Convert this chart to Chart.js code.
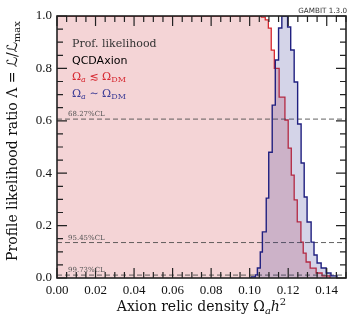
<!DOCTYPE html>
<html>
<head>
<meta charset="utf-8">
<script src="https://cdn.jsdelivr.net/npm/chart.js@4"></script>
<style>
  html, body { margin: 0; padding: 0; background: #fff; }
  canvas { display: block; }
</style>
</head>
<body>
<canvas id="myChart" width="358" height="331"></canvas>
<script>
const ctx = document.getElementById('myChart')

// histogram bin left edges and heights (last point closes the bin)
const redX = [0.0, 0.1061, 0.1081, 0.1097, 0.1112, 0.1128, 0.1153, 0.1183, 0.1200, 0.1216, 0.1231, 0.1247, 0.1266, 0.1278, 0.1293, 0.1314, 0.1345, 0.1376, 0.1417]
const redY = [1.0, 0.996, 0.985, 0.954, 0.87, 0.80, 0.69, 0.603, 0.496, 0.393, 0.298, 0.214, 0.137, 0.095, 0.061, 0.038, 0.019, 0.008, 0]

const blueX = [0.1000, 0.1009, 0.1029, 0.1040, 0.1055, 0.1066, 0.1086, 0.1099, 0.1117, 0.1133, 0.1150, 0.1167, 0.1197, 0.1213, 0.1231, 0.1249, 0.1267, 0.1283, 0.1298, 0.1319, 0.1334, 0.1350, 0.1371, 0.1397, 0.1422, 0.1453]
const blueY = [0, 0.004, 0.012, 0.038, 0.099, 0.176, 0.305, 0.48, 0.66, 0.832, 0.954, 1.0, 0.958, 0.87, 0.748, 0.588, 0.439, 0.309, 0.214, 0.137, 0.088, 0.057, 0.038, 0.019, 0.008, 0]

const clLevels = [0.6065, 0.1353, 0.0111]
const clLabels = ['68.27%CL', '95.45%CL', '99.73%CL']

const xTicks = [0, 0.02, 0.04, 0.06, 0.08, 0.10, 0.12, 0.14]
const yTicks = [0, 0.2, 0.4, 0.6, 0.8, 1.0]

const SERIF = '"DejaVu Serif", "DejaVu Sans", serif'
const RED = 'rgb(214,40,48)'
const BLUE = 'rgb(32,32,128)'

const toPoints = (xs, ys) => xs.map((x, i) => ({ x: x, y: ys[i] }))

// draw a row of text pieces: [text, font, dy, color]
const drawRuns = (c, x, y, parts, align) => {
    let w = 0
    parts.forEach(p => { c.font = p[1]; w += c.measureText(p[0]).width })
    let cx = align === 'center' ? x - w / 2 : (align === 'right' ? x - w : x)
    c.textAlign = 'left'
    c.textBaseline = 'alphabetic'
    parts.forEach(p => {
        c.font = p[1]
        c.fillStyle = p[3] || '#111'
        c.fillText(p[0], cx, y + (p[2] || 0))
        cx += c.measureText(p[0]).width
    })
}

const frame = {
    id: 'frame',
    afterDatasetsDraw(chart) {
        const c = chart.ctx
        const a = chart.chartArea
        const x = chart.scales.x
        const y = chart.scales.y
        c.save()
        c.strokeStyle = '#222'
        c.lineWidth = 1.2
        c.beginPath()
        for (let i = 0; i <= 30; i++) {
            const px = x.getPixelForValue(i * 0.005)
            const len = i % 4 === 0 ? 10 : 6
            c.moveTo(px, a.bottom); c.lineTo(px, a.bottom - len)
            c.moveTo(px, a.top); c.lineTo(px, a.top + len)
        }
        for (let i = 0; i <= 20; i++) {
            const py = y.getPixelForValue(i * 0.05)
            const len = i % 4 === 0 ? 10 : 6
            c.moveTo(a.left, py); c.lineTo(a.left + len, py)
            c.moveTo(a.right, py); c.lineTo(a.right - len, py)
        }
        c.stroke()
        c.lineWidth = 1.6
        c.strokeRect(a.left, a.top, a.right - a.left, a.bottom - a.top)
        c.restore()
    },
    afterDraw(chart) {
        const c = chart.ctx
        const a = chart.chartArea
        const y = chart.scales.y
        c.save()
        // CL labels
        clLevels.forEach((l, i) => {
            drawRuns(c, a.left + 11, y.getPixelForValue(l) - 3, [[clLabels[i], '7px ' + SERIF, 0, '#555']], 'left')
        })
        // legend block
        const lx = a.left + 15
        drawRuns(c, lx, 47, [['Prof. likelihood', '11px ' + SERIF, 0, '#333']], 'left')
        drawRuns(c, lx, 64, [['QCDAxion', '11px "DejaVu Sans", sans-serif', 0, '#000']], 'left')
        drawRuns(c, lx, 80, [
            ['Ω', '11px ' + SERIF, 0, RED], ['a', 'italic 8px ' + SERIF, 2, RED],
            [' ≲ Ω', '11px ' + SERIF, 0, RED], ['DM', '8px ' + SERIF, 2, RED]
        ], 'left')
        drawRuns(c, lx, 97, [
            ['Ω', '11px ' + SERIF, 0, '#3c3c96'], ['a', 'italic 8px ' + SERIF, 2, '#3c3c96'],
            [' ∼ Ω', '11px ' + SERIF, 0, '#3c3c96'], ['DM', '8px ' + SERIF, 2, '#3c3c96']
        ], 'left')
        // version tag
        drawRuns(c, a.right + 1, 13, [['GAMBIT 1.3.0', '7.2px "DejaVu Sans", sans-serif', 0, '#333']], 'right')
        // x title
        drawRuns(c, (a.left + a.right) / 2, 311, [
            ['Axion relic density Ω', '14px ' + SERIF], ['a', 'italic 10px ' + SERIF, 3],
            ['h', 'italic 14px ' + SERIF], ['2', '10px ' + SERIF, -6]
        ], 'center')
        // y title
        c.translate(17, 141)
        c.rotate(-Math.PI / 2)
        drawRuns(c, 0, 0, [
            ['Profile likelihood ratio Λ = ℒ/ℒ', '14px ' + SERIF], ['max', '10px ' + SERIF, 3]
        ], 'center')
        c.restore()
    }
}

const chart = new Chart(ctx, {
    type: 'line',
    data: {
        datasets: [
            {
                label: 'red',
                data: toPoints(redX, redY),
                stepped: true,
                borderColor: RED,
                borderWidth: 1.3,
                backgroundColor: 'rgba(205,60,70,0.22)',
                fill: 'origin',
                pointRadius: 0,
                order: 3
            },
            ...clLevels.map(l => ({
                label: 'cl',
                data: [{ x: 0, y: l }, { x: 0.15, y: l }],
                borderColor: 'rgba(70,70,70,0.85)',
                borderWidth: 1,
                borderDash: [5, 3],
                fill: false,
                pointRadius: 0,
                order: 2
            })),
            {
                label: 'blue',
                data: toPoints(blueX, blueY),
                stepped: true,
                borderColor: BLUE,
                borderWidth: 1.4,
                backgroundColor: 'rgba(40,40,140,0.2)',
                fill: 'origin',
                pointRadius: 0,
                order: 1
            }
        ]
    },
    options: {
        responsive: false,
        animation: false,
        devicePixelRatio: 1,
        layout: { padding: { top: 16, right: 12, left: 0, bottom: 0 } },
        plugins: {
            legend: { display: false },
            tooltip: { enabled: false }
        },
        scales: {
            x: {
                type: 'linear',
                min: 0,
                max: 0.15,
                grid: { display: false, drawTicks: false },
                border: { display: false },
                afterBuildTicks: s => { s.ticks = xTicks.map(v => ({ value: v })) },
                afterFit: s => { s.height = 53 },
                ticks: {
                    color: '#111',
                    padding: 5,
                    maxRotation: 0,
                    font: { family: '"Liberation Serif", serif', size: 13 },
                    callback: v => v.toFixed(2)
                }
            },
            y: {
                type: 'linear',
                min: 0,
                max: 1,
                grid: { display: false, drawTicks: false },
                border: { display: false },
                afterBuildTicks: s => { s.ticks = yTicks.map(v => ({ value: v })) },
                afterFit: s => { s.width = 57 },
                ticks: {
                    color: '#111',
                    padding: 5,
                    font: { family: '"Liberation Serif", serif', size: 13 },
                    callback: v => v.toFixed(1)
                }
            }
        }
    },
    plugins: [frame]
})
</script>
</body>
</html>
